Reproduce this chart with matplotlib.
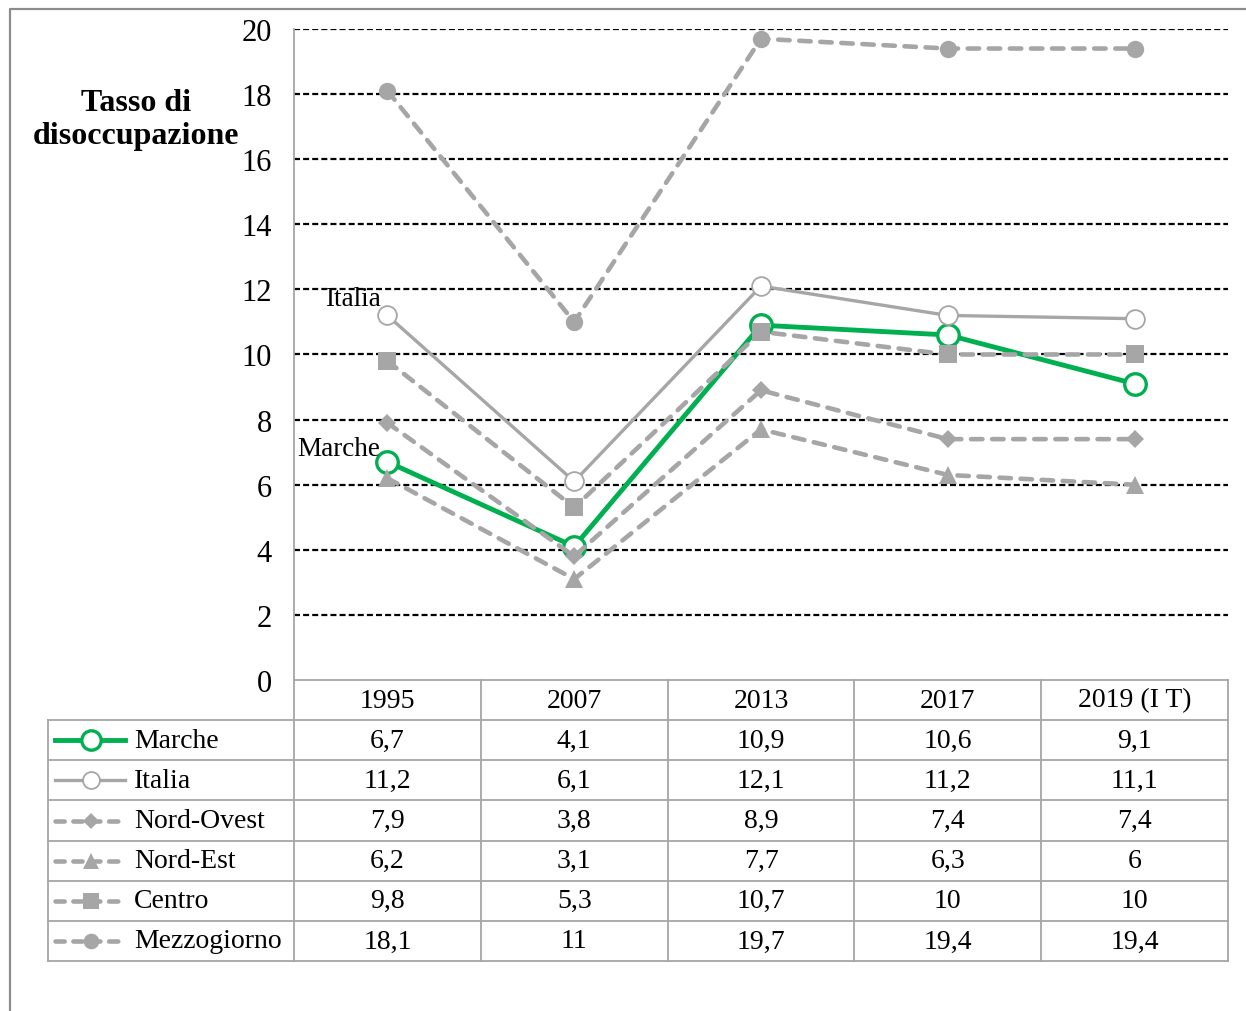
import matplotlib

matplotlib.use("Agg")

import matplotlib.pyplot as plt
from matplotlib.lines import Line2D


YEARS = ["1995", "2007", "2013", "2017", "2019 (I T)"]

MARCHE = [6.7, 4.1, 10.9, 10.6, 9.1]
ITALIA = [11.2, 6.1, 12.1, 11.2, 11.1]
NORD_OVEST = [7.9, 3.8, 8.9, 7.4, 7.4]
NORD_EST = [6.2, 3.1, 7.7, 6.3, 6]
CENTRO = [9.8, 5.3, 10.7, 10, 10]
MEZZOGIORNO = [18.1, 11, 19.7, 19.4, 19.4]

SERIES_NAMES = ["Marche", "Italia", "Nord-Ovest", "Nord-Est", "Centro", "Mezzogiorno"]

Y_TICKS = [0, 2, 4, 6, 8, 10, 12, 14, 16, 18, 20]

GREEN = "#00B050"
GRAY = "#A6A6A6"

W, H = 1246, 1012

FONT = "Liberation Serif"


def fmt(v):
    s = ("%g" % v).replace(".", ",")
    return s


def series_styles():

    solid = dict(linestyle="-")
    dashed = dict(linestyle=(0, (2.5, 2.1)), dash_capstyle="round")

    return [
        dict(color=GREEN, lw=3.5, marker="o", ms=15.5, mfc="white", mec=GREEN, mew=2.4, **solid),
        dict(color=GRAY, lw=2.4, marker="o", ms=13.5, mfc="white", mec=GRAY, mew=1.3, **solid),
        dict(color=GRAY, lw=3.3, marker="D", ms=9.5, mfc=GRAY, mec=GRAY, mew=0, **dashed),
        dict(color=GRAY, lw=3.3, marker="^", ms=12.5, mfc=GRAY, mec=GRAY, mew=0, **dashed),
        dict(color=GRAY, lw=3.3, marker="s", ms=13.5, mfc=GRAY, mec=GRAY, mew=0, **dashed),
        dict(color=GRAY, lw=3.3, marker="o", ms=12.5, mfc=GRAY, mec=GRAY, mew=0, **dashed),
    ]


def fig_axes(fig, left, top, right, bottom):
    return fig.add_axes([left / W, 1 - bottom / H, (right - left) / W, (bottom - top) / H])


def main():

    plt.rcParams["font.family"] = [FONT, "DejaVu Serif"]

    fig = plt.figure(figsize=(W / 100, H / 100), dpi=100)

    # outer frame (left and top edges only visible)
    frame = Line2D([10 / W, 10 / W, 1.01], [-0.01, 1 - 10 / H, 1 - 10 / H],
                   transform=fig.transFigure, color="#8C8C8C", lw=1.6)
    fig.add_artist(frame)

    data = [MARCHE, ITALIA, NORD_OVEST, NORD_EST, CENTRO, MEZZOGIORNO]
    styles = series_styles()
    x = list(range(len(YEARS)))

    ax = fig_axes(fig, 294, 30, 1228, 681)
    ax.set_xlim(-0.5, len(YEARS) - 0.5)
    ax.set_ylim(0, 20)

    for i, (vals, st) in enumerate(zip(data, styles)):
        ax.plot(x, vals, zorder=3 + i, clip_on=False, **st)

    for t in Y_TICKS[1:]:
        ax.axhline(t, color="black", lw=1.6, linestyle=(0, (2.7, 1.4)), zorder=1)

    ax.set_yticks(Y_TICKS)
    ax.set_yticklabels([str(t) for t in Y_TICKS], fontsize=22)
    ax.tick_params(axis="y", length=0, pad=16)
    ax.set_xticks([])

    for side in ["top", "right", "bottom"]:
        ax.spines[side].set_visible(False)
    ax.spines["left"].set_color(GRAY)
    ax.spines["left"].set_linewidth(1.3)

    ax.annotate("Italia", (0, ITALIA[0]), xytext=(-5, 12), textcoords="offset points",
                ha="right", va="center", fontsize=19.5)
    ax.annotate("Marche", (0, MARCHE[0]), xytext=(-5, 10), textcoords="offset points",
                ha="right", va="center", fontsize=19.5)

    fig.text(136 / W, 1 - 120 / H, "Tasso di\ndisoccupazione", ha="center", va="center",
             fontsize=23, fontweight="bold", linespacing=1.2)

    # data table below the chart
    col_w = (1228 - 294) / len(YEARS)
    label_w = (294 - 48) / col_w
    n_rows = len(SERIES_NAMES) + 1

    tax = fig_axes(fig, 48, 681, 1228, 962)
    tax.set_xlim(-0.5 - label_w, len(YEARS) - 0.5)
    tax.set_ylim(n_rows, 0)
    tax.axis("off")

    def px(xpix):
        return -0.5 + (xpix - 294) / col_w

    line_kw = dict(color=GRAY, lw=1.3, clip_on=False, solid_capstyle="projecting")
    left = -0.5 - label_w
    right = len(YEARS) - 0.5
    tax.plot([-0.5, right], [0, 0], **line_kw)
    for r in range(1, n_rows + 1):
        tax.plot([left, right], [r, r], **line_kw)
    tax.plot([left, left], [1, n_rows], **line_kw)
    for c in range(len(YEARS) + 1):
        tax.plot([c - 0.5, c - 0.5], [0, n_rows], **line_kw)

    for c, year in enumerate(YEARS):
        tax.text(c, 0.5, year, ha="center", va="center", fontsize=20)

    for r, (name, vals, st) in enumerate(zip(SERIES_NAMES, data, styles)):
        yy = r + 1.5
        sw = dict(st)
        ms = sw.pop("ms")
        marker = sw.pop("marker")
        mfc = sw.pop("mfc")
        mec = sw.pop("mec")
        mew = sw.pop("mew")
        if sw["linestyle"] != "-":
            sw["linestyle"] = (0, (2.0, 1.9))
        tax.plot([px(55), px(125)], [yy, yy], clip_on=False, **sw)
        tax.plot([px(91)], [yy], marker=marker, ms=ms * 0.9, mfc=mfc, mec=mec, mew=mew,
                 linestyle="none", clip_on=False)
        tax.text(px(134), yy, name, ha="left", va="center", fontsize=20)
        for c, v in enumerate(vals):
            tax.text(c, yy, fmt(v), ha="center", va="center", fontsize=20)

    fig.savefig("out.png", dpi=100)
    plt.close(fig)


if __name__ == "__main__":
    main()
